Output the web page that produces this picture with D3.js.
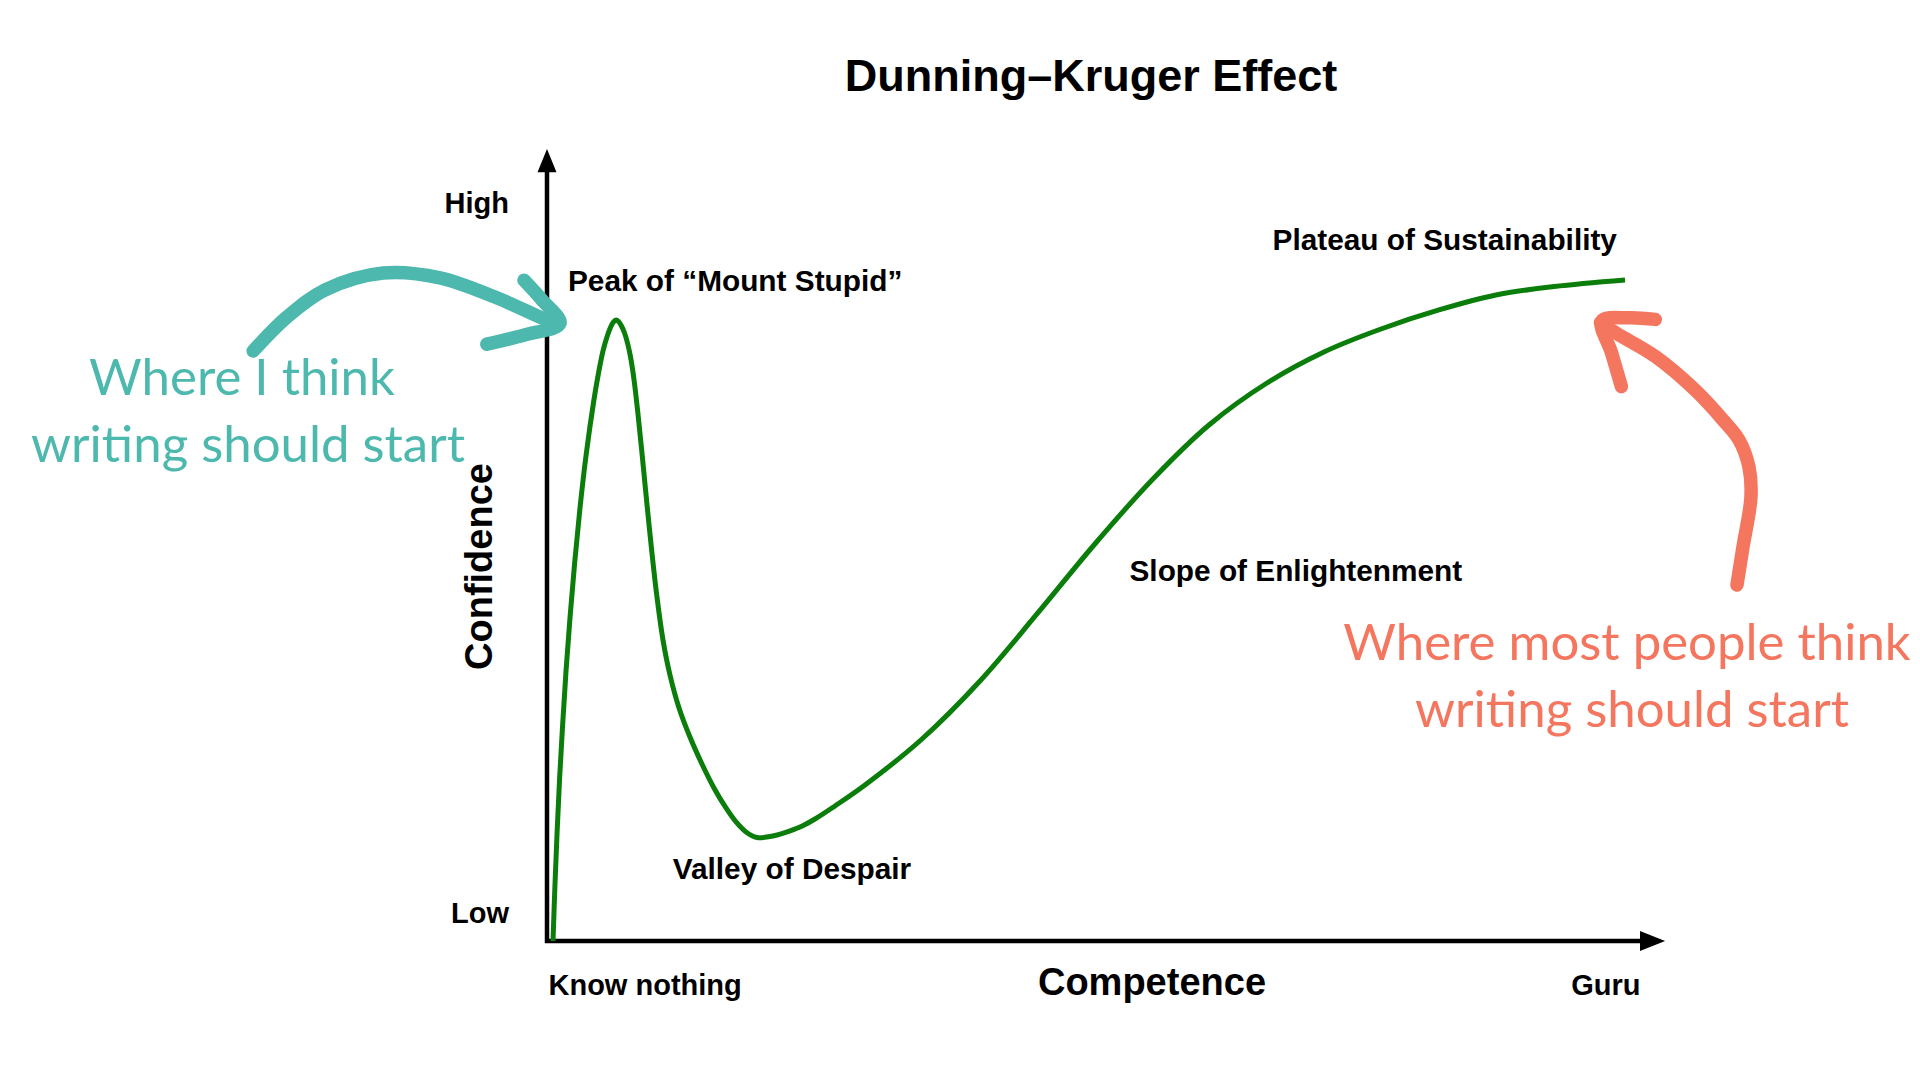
<!DOCTYPE html>
<html><head><meta charset="utf-8">
<script src="https://cdn.jsdelivr.net/npm/d3@7"></script>
<style>html,body{margin:0;padding:0;background:#fff;} svg{display:block;}</style>
</head><body>
<svg id="chart" width="1920" height="1080"></svg>
<script>
// ---- data ----
const competence = [0.46, 0.63, 0.83, 1.06, 1.34, 1.65, 2.02, 2.44, 2.92, 3.49, 4.19, 4.61, 5.06, 5.40, 5.72, 6.00, 6.23,
  6.46, 6.73, 7.01, 7.28, 7.56, 7.88, 8.24, 8.65, 9.07, 9.52, 9.98, 10.53, 11.17, 12.00, 13.00, 14.10, 15.20, 16.30, 17.22,
  18.13, 19.14, 20.33, 21.70, 23.08, 24.45, 26.28, 29.03, 34.25, 39.56, 44.78, 50.0, 55.31, 60.53, 65.84, 71.06, 76.28,
  81.59, 86.81, 92.13, 98.63];
const confidence = [0, 6.75, 13.5, 20.25, 27, 33.75, 40.5, 47.25, 54, 60.75, 67.5, 70.88, 73.88, 75.5, 76.69, 77.38, 77.63,
  77.44, 76.88, 76.0, 74.75, 73.0, 70.13, 65.88, 60.38, 54.5, 48.5, 43.0, 37.63, 33.25, 29.13, 25.5, 22.13, 19.13, 16.63, 14.88,
  13.63, 12.94, 13.06, 13.56, 14.25, 15.25, 16.88, 19.5, 25.25, 32.5, 40.88, 49.5, 57.63, 64.5, 69.75, 73.63, 76.5,
  78.88, 80.75, 81.81, 82.63];
const xTickValues = [0, 100];
const xTickLabels = ["Know nothing", "Guru"];
const yTickValues = [3.5, 92.2];
const yTickLabels = ["Low", "High"];
const phaseNames = ["Peak of \u201CMount Stupid\u201D", "Valley of Despair", "Slope of Enlightenment", "Plateau of Sustainability"];
const phaseCompetence = [1.83, 11.42, 53.25, 66.35];
const phaseConfidence = [81.25, 7.8, 45.0, 86.4];
const noteLeft = ["Where I think", "writing should start"];
const noteRight = ["Where most people think", "writing should start"];
// annotation arrows (data units)
const tealShaftX = [-27.0, -23.9, -20.4, -15.1, -9.9, -4.7, -0.1, 1.0];
const tealShaftY = [73.75, 78.0, 81.4, 83.5, 82.9, 80.4, 77.6, 77.1];
const tealBarbX = [-2.2, -0.6, 1.1, -2.0, -5.6];
const tealBarbY = [82.6, 80.2, 77.2, 75.8, 74.6];
const redShaftX = [108.88, 109.43, 110.16, 109.98, 109.07, 107.6, 105.04, 101.47, 97.8, 96.38];
const redShaftY = [44.5, 49.25, 55.5, 59.25, 62.63, 65.13, 68.88, 73.0, 76.0, 77.3];
const redBarbX = [101.4, 99.0, 96.5, 97.4, 98.3];
const redBarbY = [77.7, 77.9, 77.5, 73.5, 69.3];

// ---- layout ----
const svg = d3.select("#chart");
svg.append("rect").attr("width", 1920).attr("height", 1080).attr("fill", "#fff");
const x = d3.scaleLinear().domain([0, 100]).range([548, 1640]);
const y = d3.scaleLinear().domain([0, 100]).range([941, 141]);
const FONT = "'Liberation Sans', Arial, Helvetica, sans-serif";
const NOTE_FONT = "Lato, 'Open Sans', sans-serif";

// title
svg.append("text").attr("x", 1091).attr("y", 91).attr("text-anchor", "middle")
  .attr("font-family", FONT).attr("font-weight", "bold").attr("font-size", 45)
  .attr("fill", "#000").text("Dunning\u2013Kruger Effect");

// axes lines with arrowheads
const axisG = svg.append("g");
axisG.append("line").attr("x1", x(0) - 1).attr("x2", x(0) - 1).attr("y1", y(0) + 2).attr("y2", y(96.5))
  .attr("stroke", "#000").attr("stroke-width", 4.5);
axisG.append("path")
  .attr("d", `M${x(0) - 1},${y(99)} L${x(0) - 10.5},${y(96.1)} L${x(0) + 8.5},${y(96.1)} Z`)
  .attr("fill", "#000");
axisG.append("line").attr("x1", x(0) - 3).attr("x2", x(100.5)).attr("y1", y(0)).attr("y2", y(0))
  .attr("stroke", "#000").attr("stroke-width", 4.5);
axisG.append("path")
  .attr("d", `M${x(102.3)},${y(0)} L${x(100)},${y(0) - 10} L${x(100)},${y(0) + 10} Z`)
  .attr("fill", "#000");

// tick labels via d3 axes
const xAxis = d3.axisBottom(x).tickValues(xTickValues).tickSize(0).tickPadding(33.5)
  .tickFormat((d, i) => xTickLabels[i]);
const gx = svg.append("g").attr("transform", `translate(0,${y(0)})`).call(xAxis);
gx.select(".domain").remove();
gx.selectAll("text").attr("font-family", FONT).attr("font-weight", "bold").attr("font-size", 29)
  .attr("fill", "#000")
  .attr("text-anchor", (d, i) => i === 0 ? "start" : "end");

const yAxis = d3.axisLeft(y).tickValues(yTickValues).tickSize(0).tickPadding(38)
  .tickFormat((d, i) => yTickLabels[i]);
const gy = svg.append("g").attr("transform", `translate(${x(0) - 1},0)`).call(yAxis);
gy.select(".domain").remove();
gy.selectAll("text").attr("font-family", FONT).attr("font-weight", "bold").attr("font-size", 29)
  .attr("fill", "#000");

// axis titles
svg.append("text").attr("x", 1152).attr("y", 995).attr("text-anchor", "middle")
  .attr("font-family", FONT).attr("font-weight", "bold").attr("font-size", 38).attr("fill", "#000")
  .text("Competence");
svg.append("text").attr("transform", "translate(492,566.5) rotate(-90)").attr("text-anchor", "middle")
  .attr("font-family", FONT).attr("font-weight", "bold").attr("font-size", 38).attr("fill", "#000")
  .text("Confidence");

// curve
const pts = competence.map((c, i) => [c, confidence[i]]);
const line = d3.line().x(d => x(d[0])).y(d => y(d[1])).curve(d3.curveCatmullRom.alpha(0.5));
svg.append("path").attr("d", line(pts)).attr("fill", "none")
  .attr("stroke", "#0a7d0a").attr("stroke-width", 5).attr("stroke-linecap", "butt")
  .attr("stroke-linejoin", "round");

// phase labels
phaseNames.forEach((name, i) => {
  svg.append("text").attr("x", x(phaseCompetence[i])).attr("y", y(phaseConfidence[i]))
    .attr("font-family", FONT).attr("font-weight", "bold").attr("font-size", 29.8)
    .attr("fill", "#000").text(name);
});

// annotation arrows
const TEAL = "#4db8ad", RED = "#f4765f";
const arrowLine = d3.line().x(d => x(d[0])).y(d => y(d[1])).curve(d3.curveCatmullRom.alpha(0.5));
function drawArrow(sx, sy, bx, by, color, w) {
  svg.append("path").attr("d", arrowLine(sx.map((v, i) => [v, sy[i]])))
    .attr("fill", "none").attr("stroke", color).attr("stroke-width", w)
    .attr("stroke-linecap", "round").attr("stroke-linejoin", "round");
  svg.append("path").attr("d", arrowLine(bx.map((v, i) => [v, by[i]])))
    .attr("fill", "none").attr("stroke", color).attr("stroke-width", w)
    .attr("stroke-linecap", "round").attr("stroke-linejoin", "round");
}
drawArrow(tealShaftX, tealShaftY, tealBarbX, tealBarbY, TEAL, 13.5);
drawArrow(redShaftX, redShaftY, redBarbX, redBarbY, RED, 13.5);

// annotation notes
function note(lines, cx, baselines, color) {
  return lines.map((t, i) => svg.append("text").attr("x", cx[i]).attr("y", baselines[i])
    .attr("text-anchor", "middle").attr("font-family", NOTE_FONT).attr("font-weight", 400)
    .attr("font-size", 44).attr("fill", color).text(t));
}
const tl = note(noteLeft, [242, 248], [395, 462], TEAL);
const tr = note(noteRight, [1627, 1632], [660, 727], RED);
// fit note size to reference width of "writing should start" (~434px)
const w0 = tl[1].node().getComputedTextLength();
const fs = 44 * 434 / w0;
[...tl, ...tr].forEach(t => t.attr("font-size", fs));
</script>
</body></html>
